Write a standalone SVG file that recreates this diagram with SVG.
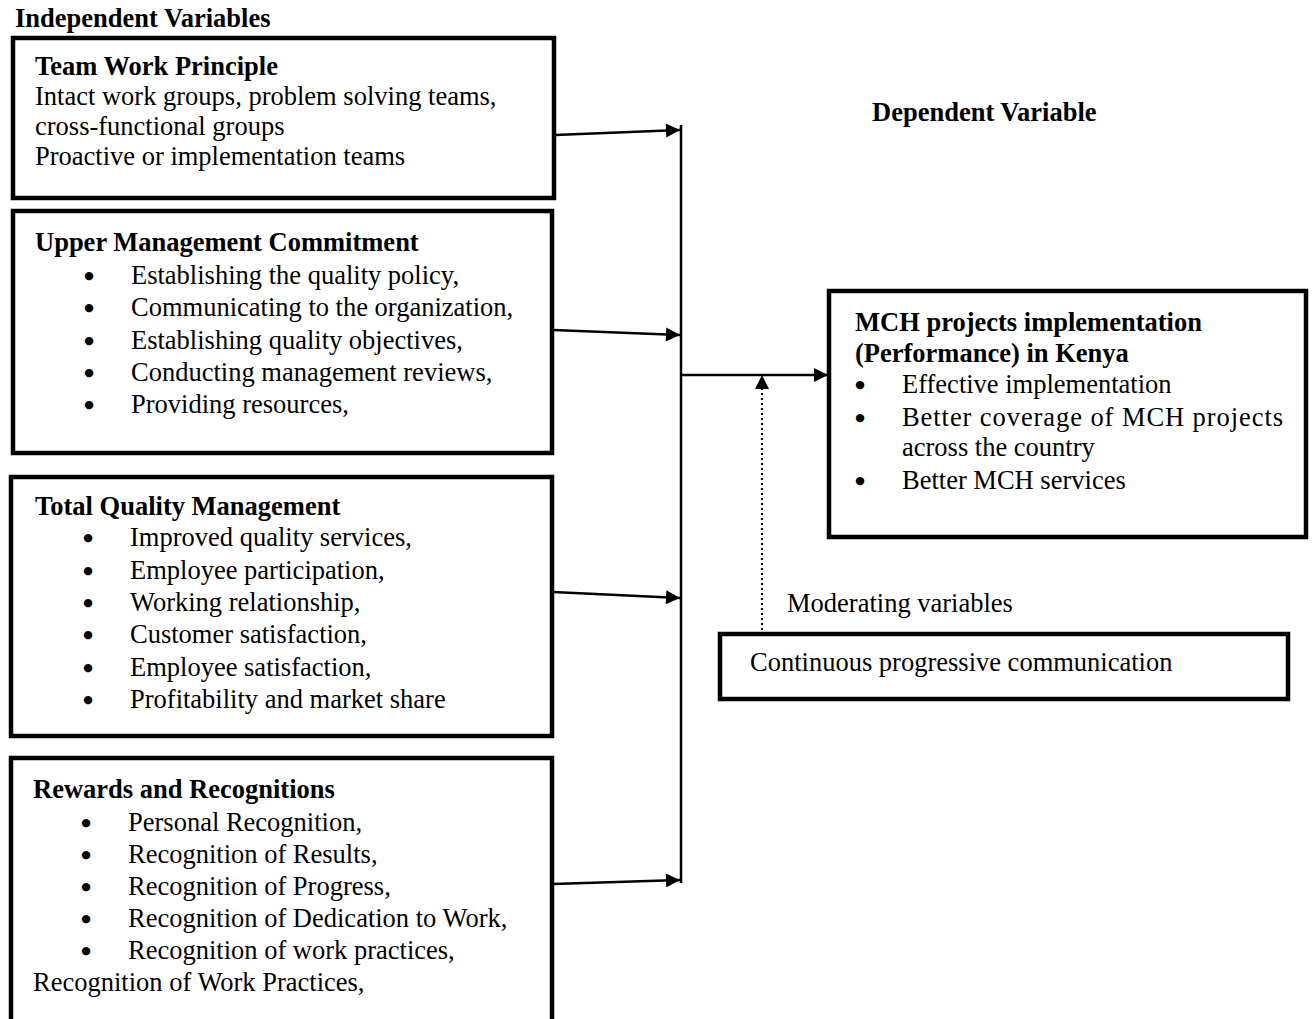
<svg xmlns="http://www.w3.org/2000/svg" width="1312" height="1019" viewBox="0 0 1312 1019">
<style>
text{font-family:"Liberation Serif","Times New Roman",serif;font-size:26.5px;fill:#000}
.b{font-weight:bold}
.bu{font-family:"DejaVu Sans",sans-serif;font-size:11px;text-anchor:middle}
.box{fill:#fff;stroke:#000;stroke-width:4.5}
.c{stroke:#000;stroke-width:2.5;fill:none}
</style>
<defs>
<marker id="ah" viewBox="0 0 10 10" refX="10" refY="5" markerWidth="15" markerHeight="14" markerUnits="userSpaceOnUse" orient="auto"><path d="M0,0L10,5L0,10z" fill="#000"/></marker>
</defs>
<rect width="1312" height="1019" fill="#fff"/>
<text class="b" x="15" y="27">Independent Variables</text>
<text class="b" x="872" y="121">Dependent Variable</text>
<g id="n1">
<rect class="box" x="13" y="38" width="541" height="160"/>
<text class="b" x="35" y="75">Team Work Principle</text>
<text x="35" y="105">Intact work groups, problem solving teams,</text>
<text x="35" y="135">cross-functional groups</text>
<text x="35" y="165">Proactive or implementation teams</text>
</g>
<g id="n2">
<rect class="box" x="13" y="211" width="539" height="242"/>
<text class="b" x="35" y="251">Upper Management Commitment</text>
<g><text class="bu" x="89" y="279">●</text><text x="131" y="284">Establishing the quality policy,</text></g>
<g><text class="bu" x="89" y="311">●</text><text x="131" y="316">Communicating to the organization,</text></g>
<g><text class="bu" x="89" y="344">●</text><text x="131" y="349">Establishing quality objectives,</text></g>
<g><text class="bu" x="89" y="376">●</text><text x="131" y="381">Conducting management reviews,</text></g>
<g><text class="bu" x="89" y="408">●</text><text x="131" y="413">Providing resources,</text></g>
</g>
<g id="n3">
<rect class="box" x="11" y="477" width="541" height="259"/>
<text class="b" x="35" y="515">Total Quality Management</text>
<g><text class="bu" x="88" y="541">●</text><text x="130" y="546">Improved quality services,</text></g>
<g><text class="bu" x="88" y="574">●</text><text x="130" y="579">Employee participation,</text></g>
<g><text class="bu" x="88" y="606">●</text><text x="130" y="611">Working relationship,</text></g>
<g><text class="bu" x="88" y="638">●</text><text x="130" y="643">Customer satisfaction,</text></g>
<g><text class="bu" x="88" y="671">●</text><text x="130" y="676">Employee satisfaction,</text></g>
<g><text class="bu" x="88" y="703">●</text><text x="130" y="708">Profitability and market share</text></g>
</g>
<g id="n4">
<rect class="box" x="11" y="758" width="541" height="268"/>
<text class="b" x="33" y="798">Rewards and Recognitions</text>
<g><text class="bu" x="86" y="826">●</text><text x="128" y="831">Personal Recognition,</text></g>
<g><text class="bu" x="86" y="858">●</text><text x="128" y="863">Recognition of Results,</text></g>
<g><text class="bu" x="86" y="890">●</text><text x="128" y="895">Recognition of Progress,</text></g>
<g><text class="bu" x="86" y="922">●</text><text x="128" y="927">Recognition of Dedication to Work,</text></g>
<g><text class="bu" x="86" y="954">●</text><text x="128" y="959">Recognition of work practices,</text></g>
<text x="33" y="991">Recognition of Work Practices,</text>
</g>
<g id="dep">
<rect class="box" x="829" y="291" width="477" height="246"/>
<text class="b" x="855" y="331">MCH projects implementation</text>
<text class="b" x="855" y="362">(Performance) in Kenya</text>
<g><text class="bu" x="860" y="388">●</text><text x="902" y="393">Effective implementation</text></g>
<g><text class="bu" x="860" y="421">●</text><text x="902" y="426" textLength="381" lengthAdjust="spacing">Better coverage of MCH projects</text></g>
<text x="902" y="456">across the country</text>
<g><text class="bu" x="860" y="484">●</text><text x="902" y="489">Better MCH services</text></g>
</g>
<g id="mod">
<text x="787" y="612">Moderating variables</text>
<rect class="box" x="720" y="634" width="568" height="65"/>
<text x="750" y="671">Continuous progressive communication</text>
</g>
<g id="connectors">
<line class="c" x1="681" y1="125" x2="681" y2="883"/>
<line class="c" x1="555" y1="135" x2="680" y2="130" marker-end="url(#ah)"/>
<line class="c" x1="553" y1="330" x2="680" y2="335" marker-end="url(#ah)"/>
<line class="c" x1="553" y1="592" x2="680" y2="598" marker-end="url(#ah)"/>
<line class="c" x1="553" y1="884" x2="680" y2="880" marker-end="url(#ah)"/>
<line class="c" x1="681" y1="375" x2="828" y2="375" marker-end="url(#ah)"/>
<line x1="762" y1="630" x2="762" y2="375" stroke="#000" stroke-width="2" stroke-dasharray="2,3" marker-end="url(#ah)"/>
</g>
</svg>
